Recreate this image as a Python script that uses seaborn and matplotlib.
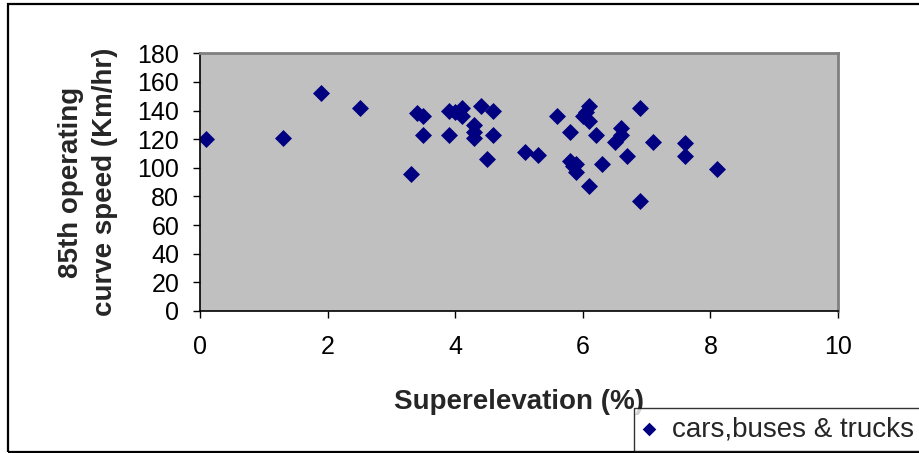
import numpy as np
import pandas as pd
import seaborn as sns
import matplotlib.pyplot as plt
from matplotlib.patches import Rectangle

# values
superelevation = [0.1, 1.3, 1.9, 2.5, 3.4, 3.5, 3.5, 3.3,
                  3.9, 4.1, 4.0, 4.1, 3.9, 4.4, 4.6, 4.3, 4.3, 4.3, 4.6, 4.5,
                  5.1, 5.3, 5.6, 5.8, 6.1, 6.0, 6.05, 6.1, 6.2,
                  5.8, 5.9, 5.85, 5.9, 6.1, 6.3,
                  6.6, 6.6, 6.5, 6.7, 6.9, 6.9, 7.1, 7.6, 7.6, 8.1]
speed_85 = [120, 121, 152, 142, 138, 136, 123, 96,
            140, 142, 139, 136, 123, 143, 140, 130, 125, 121, 123, 106,
            111, 109, 136, 125, 143, 136, 139, 133, 123,
            105, 103, 101, 97, 87, 103,
            128, 123, 118, 108, 142, 77, 118, 117, 108, 99]

df = pd.DataFrame({"Superelevation": superelevation, "Speed": speed_85})

sns.set_style("white")
plt.rcParams['font.family'] = ['Liberation Sans', 'DejaVu Sans']

fig = plt.figure(figsize=(9.19, 4.53), dpi=100)
ax = fig.add_axes([200/919, 1 - 311/453, 638/919, 257.7/453])
ax.set_facecolor("#C0C0C0")

sns.scatterplot(data=df, x="Superelevation", y="Speed", ax=ax, marker="D",
                s=75, color="#000080", edgecolor="#000080", linewidth=0,
                label="cars,buses & trucks", legend=False)

ax.set_xlim(0, 10)
ax.set_ylim(0, 180)
ax.set_xticks(range(0, 11, 2))
ax.set_yticks(range(0, 181, 20))
ax.tick_params(axis="both", direction="out", length=5, width=1, colors="black",
               labelsize=18, left=True, bottom=True)
ax.tick_params(axis="y", pad=10)
ax.tick_params(axis="x", pad=12)

for side in ["top", "right"]:
    ax.spines[side].set_color("#808080")
    ax.spines[side].set_linewidth(2)
for side in ["left", "bottom"]:
    ax.spines[side].set_color("black")
    ax.spines[side].set_linewidth(1.2)

ax.set_xlabel("Superelevation (%)", fontsize=20, fontweight="bold", labelpad=22)
ax.set_ylabel("85th operating\ncurve speed (Km/hr)", fontsize=20,
              fontweight="bold", labelpad=14, linespacing=1.4)

# outer chart frame
fig.patches.append(Rectangle((8/919, 1/453), 1.2, 1 - 5/453, transform=fig.transFigure,
                             fill=False, edgecolor="black", linewidth=1.6, clip_on=False))

handles, labels = ax.get_legend_handles_labels()
leg = fig.legend(handles, labels, loc="upper left",
                 bbox_to_anchor=(634/919, 1 - 408/453), fontsize=20,
                 frameon=True, fancybox=False, handletextpad=0.55,
                 borderpad=0.3, handlelength=0.5, borderaxespad=0,
                 markerscale=0.8)
leg.get_frame().set_edgecolor("black")
leg.get_frame().set_linewidth(1)

fig.savefig("out.png", dpi=100)
